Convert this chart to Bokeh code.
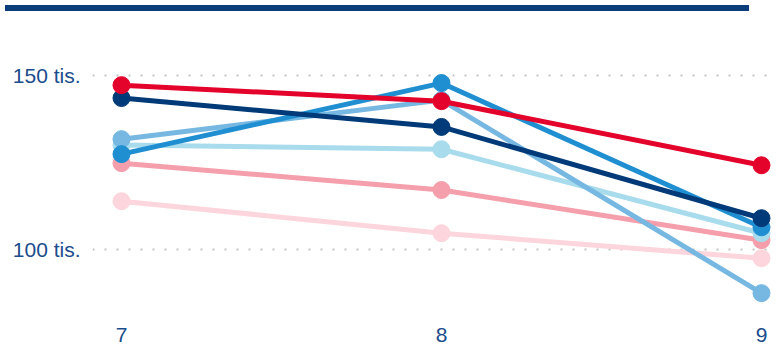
from bokeh.plotting import figure
from bokeh.models import Div, FixedTicker, ColumnDataSource
from bokeh.layouts import column
from bokeh.embed import file_html
from bokeh.resources import INLINE

x_vals = [7, 8, 9]
x_labels = {7: "7", 8: "8", 9: "9"}
y_ticks = [100000, 150000]
y_labels = {100000: "100 tis.", 150000: "150 tis."}

# series drawn bottom to top
series_names = ["s7", "s6", "s5", "s4", "s3", "s2", "s1"]
series_values = {
    "s7": [113800, 104600, 97400],
    "s6": [124700, 117000, 102600],
    "s5": [129900, 128700, 104600],
    "s4": [131600, 142800, 87400],
    "s3": [127300, 147700, 106300],
    "s2": [143400, 135100, 108900],
    "s1": [147100, 142500, 124100],
}
series_colors = {
    "s7": "#fdd5dc",
    "s6": "#f49fab",
    "s5": "#a8dcec",
    "s4": "#76b8e2",
    "s3": "#1f8fd2",
    "s2": "#003a78",
    "s1": "#e4032b",
}

TEXT = "#1b4c8c"

bar = Div(text="", width=744, height=6,
          styles={"background-color": "#0a3d7a", "width": "744px", "height": "6px"})

p = figure(width=776, height=328, output_backend="svg",
           toolbar_location=None,
           x_range=(6.9094, 9.0469), y_range=(82700, 162790),
           min_border_left=92, min_border_top=14, min_border_right=0,
           min_border_bottom=0)
p.outline_line_color = None
p.xgrid.grid_line_color = None
p.ygrid.grid_line_color = "#c4c4c4"
p.ygrid.grid_line_dash = "2 10"
p.ygrid.grid_line_width = 2

p.xaxis.ticker = FixedTicker(ticks=x_vals)
p.xaxis.major_label_overrides = x_labels
p.yaxis.ticker = FixedTicker(ticks=y_ticks)
p.yaxis.major_label_overrides = y_labels
for ax in (p.xaxis, p.yaxis):
    ax.axis_line_color = None
    ax.major_tick_line_color = None
    ax.minor_tick_line_color = None
    ax.major_label_text_color = TEXT
    ax.major_label_text_font = "Liberation Sans"
    ax.major_label_text_font_size = "21px"
p.yaxis.major_label_standoff = 6
p.xaxis.major_label_standoff = 12

for name in series_names:
    src = ColumnDataSource(dict(x=x_vals, y=series_values[name]))
    c = series_colors[name]
    p.line("x", "y", source=src, line_color=c, line_width=5)
    p.scatter("x", "y", source=src, size=17, fill_color=c, line_color=c)

layout = column(bar, p, spacing=0)
open("out.html", "w").write(file_html(layout, INLINE))
